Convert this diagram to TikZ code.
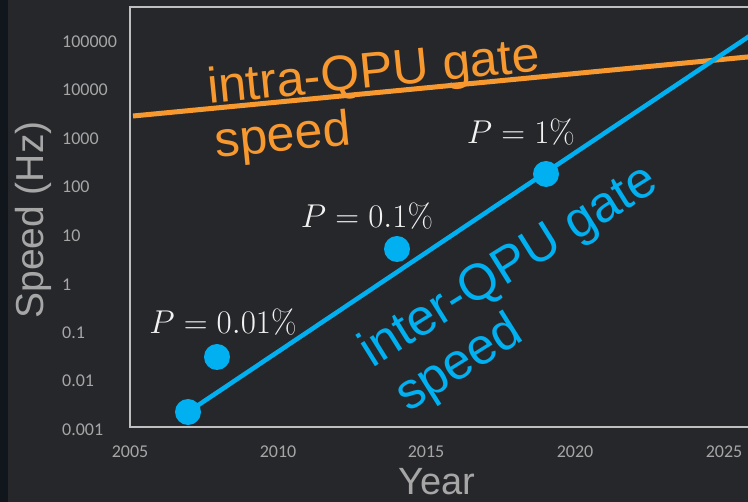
\RequirePackage{fix-cm}
\documentclass[tikz,border=0pt]{standalone}
\usepackage[no-math]{fontspec}
\setmainfont{Liberation Sans}
\newfontfamily\tickfont{Carlito}

\definecolor{bgdark}{HTML}{26272B}
\definecolor{stripdark}{HTML}{10161C}
\definecolor{framegray}{HTML}{BFBFBF}
\definecolor{labelgray}{HTML}{A6A6A6}
\definecolor{gateorange}{HTML}{F7992E}
\definecolor{gateblue}{HTML}{00B0F0}
\definecolor{mathwhite}{HTML}{F2F2F2}

\tikzset{
  frameline/.style={draw=framegray, line width=2pt},
  ytick/.style={anchor=west, inner sep=0pt, text=labelgray, font=\tickfont\fontsize{18}{21}\selectfont},
  xtick/.style={anchor=center, inner sep=0pt, text=labelgray, font=\tickfont\fontsize{18}{21}\selectfont},
  axtitle/.style={inner sep=0pt, text=labelgray, font=\fontsize{38}{45}\selectfont},
  bluedot/.style={circle, fill=gateblue, minimum size=26pt, inner sep=0pt},
  blueline/.style={draw=gateblue, line width=4.5pt},
  orangeline/.style={draw=gateorange, line width=5pt},
  orangetext/.style={inner sep=0pt, text=gateorange, font=\fontsize{50}{58}\selectfont},
  bluetext/.style={inner sep=0pt, text=gateblue, font=\fontsize{51}{59}\selectfont},
  plabel/.style={inner sep=0pt, text=mathwhite, font=\fontsize{33}{40}\selectfont},
}

\begin{document}
\begin{tikzpicture}[x=1pt, y=-1pt]
  % background and left strip
  \fill[bgdark] (0,0) rectangle (748,502);
  \fill[stripdark] (0,0) rectangle (8,502);
  \useasboundingbox (0,0) rectangle (748,502);

  % plot frame
  \draw[frameline] (749,7) -- (130,7) -- (130,427) -- (749,427);

  % logarithmic speed axis
  \node[ytick] (t5)  at (62,42)  {100000};
  \node[ytick] (t4)  at (62,90)  {10000};
  \node[ytick] (t3)  at (62,139) {1000};
  \node[ytick] (t2)  at (62,187) {100};
  \node[ytick] (t1)  at (62,236) {10};
  \node[ytick] (t0)  at (62,285) {1};
  \node[ytick] (tm1) at (62,333) {0.1};
  \node[ytick] (tm2) at (62,381) {0.01};
  \node[ytick] (tm3) at (62,430) {0.001};

  % year axis
  \node[xtick] (x2005) at (130,452) {2005};
  \node[xtick] (x2010) at (278,452) {2010};
  \node[xtick] (x2015) at (426,452) {2015};
  \node[xtick] (x2020) at (575,452) {2020};
  \node[xtick] (x2025) at (724,452) {2025};

  % axis titles
  \node[axtitle, font=\fontsize{39}{46}\selectfont, rotate=90] (ylab) at (33,220) {Speed (Hz)};
  \node[axtitle] (xlab) at (437,482) {Year};

  % intra-QPU caption, then its trend line on top
  \node[orangetext, anchor=base west, rotate=5.7] (ot1) at (209,104) {intra-QPU gate};
  \node[orangetext, anchor=base west, rotate=5.7] (ot2) at (216,158) {speed};
  \coordinate (oa) at (133,116);
  \coordinate (ob) at (760,55.8);
  \draw[orangeline] (oa) -- (ob);

  % inter-QPU trend and measured points
  \node[bluedot] (d1) at (188,412) {};
  \node[bluedot] (d2) at (217,357) {};
  \node[bluedot] (d3) at (397,249) {};
  \node[bluedot] (d4) at (546,174) {};
  \coordinate (be) at (760,29);
  \draw[blueline] (d1.center) -- (be);

  % error probabilities
  \node[plabel] (p1) at (223,322) {$P = 0.01\%$};
  \node[plabel] (p2) at (367,216) {$P = 0.1\%$};
  \node[plabel] (p3) at (521,132) {$P = 1\%$};

  % inter-QPU caption
  \node[bluetext, anchor=base west, rotate=32] (bt1) at (372,369) {inter-QPU gate};
  \node[bluetext, anchor=base west, rotate=32] (bt2) at (408,413) {speed};
\end{tikzpicture}
\end{document}
